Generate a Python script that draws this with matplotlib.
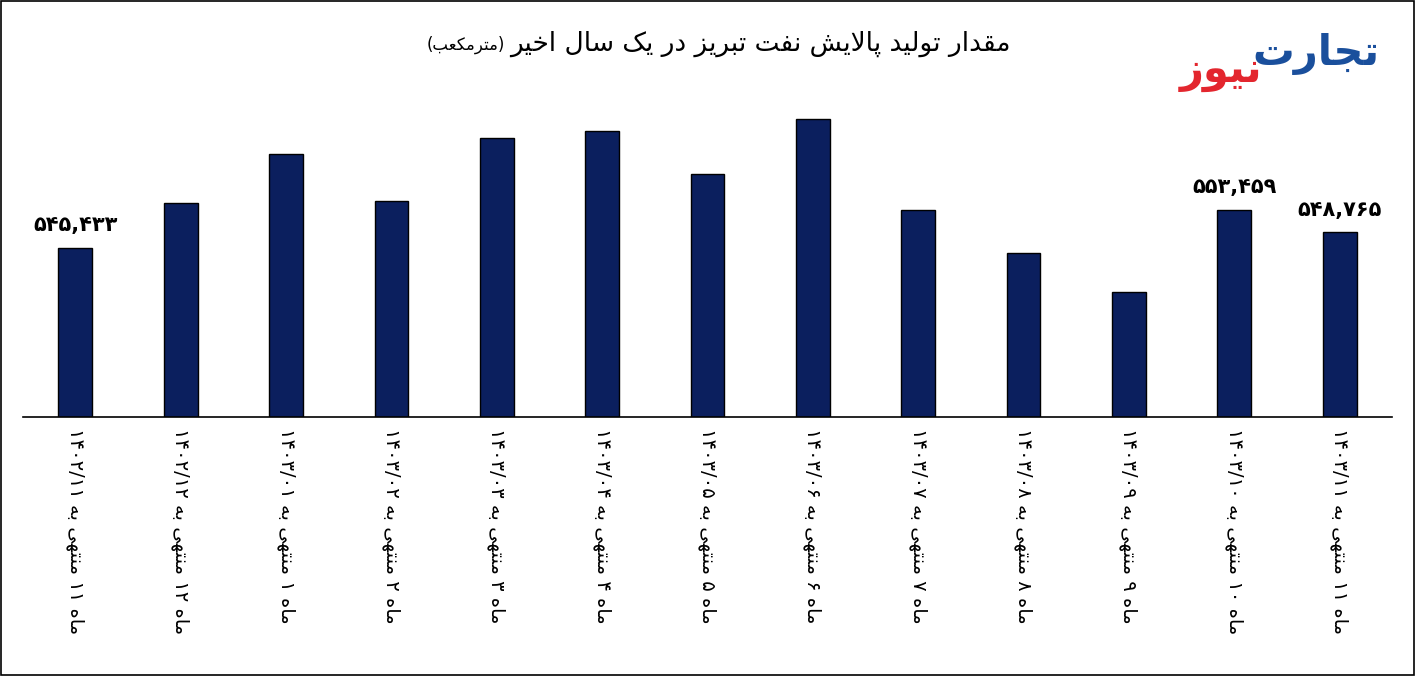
import matplotlib
matplotlib.use("Agg")
import matplotlib.pyplot as plt
from matplotlib.patches import Rectangle

# --- minimal Persian shaping (matplotlib has no bidi / joining) ---
FORMS = {
    "ا": (0xFE8D, 0xFE8E, None, None), "آ": (0xFE81, 0xFE82, None, None),
    "ب": (0xFE8F, 0xFE90, 0xFE91, 0xFE92), "پ": (0xFB56, 0xFB57, 0xFB58, 0xFB59),
    "ت": (0xFE95, 0xFE96, 0xFE97, 0xFE98), "ج": (0xFE9D, 0xFE9E, 0xFE9F, 0xFEA0),
    "خ": (0xFEA5, 0xFEA6, 0xFEA7, 0xFEA8), "د": (0xFEA9, 0xFEAA, None, None),
    "ر": (0xFEAD, 0xFEAE, None, None), "ز": (0xFEAF, 0xFEB0, None, None),
    "س": (0xFEB1, 0xFEB2, 0xFEB3, 0xFEB4), "ش": (0xFEB5, 0xFEB6, 0xFEB7, 0xFEB8),
    "ع": (0xFEC9, 0xFECA, 0xFECB, 0xFECC), "ف": (0xFED1, 0xFED2, 0xFED3, 0xFED4),
    "ق": (0xFED5, 0xFED6, 0xFED7, 0xFED8), "ک": (0xFB8E, 0xFB8F, 0xFB90, 0xFB91),
    "ل": (0xFEDD, 0xFEDE, 0xFEDF, 0xFEE0), "م": (0xFEE1, 0xFEE2, 0xFEE3, 0xFEE4),
    "ن": (0xFEE5, 0xFEE6, 0xFEE7, 0xFEE8), "ه": (0xFEE9, 0xFEEA, 0xFEEB, 0xFEEC),
    "و": (0xFEED, 0xFEEE, None, None), "ی": (0xFBFC, 0xFBFD, 0xFBFE, 0xFBFF),
}


def joins_next(c):
    return c in FORMS and FORMS[c][2] is not None


def shape_word(w):
    out = []
    i = 0
    while i < len(w):
        c = w[i]
        prev = w[i - 1] if i > 0 else ""
        pj = joins_next(prev)
        if c == "ل" and i + 1 < len(w) and w[i + 1] == "ا":
            out.append(chr(0xFEFC if pj else 0xFEFB))
            i += 2
            continue
        if c not in FORMS:
            out.append(c)
            i += 1
            continue
        nxt = w[i + 1] if i + 1 < len(w) else ""
        nj = nxt in FORMS and joins_next(c)
        iso, fin, ini, med = FORMS[c]
        if pj and nj:
            f = med
        elif pj:
            f = fin
        elif nj:
            f = ini
        else:
            f = iso
        out.append(chr(f))
        i += 1
    return "".join(out)


def fa(text):
    # split into runs: digits (kept LTR) and the rest (reversed)
    runs, cur, cur_digit = [], "", None
    for ch in text:
        d = ch in "۰۱۲۳۴۵۶۷۸۹0123456789/,"
        if cur and d != cur_digit:
            runs.append((cur, cur_digit))
            cur = ""
        cur += ch
        cur_digit = d
    if cur:
        runs.append((cur, cur_digit))
    vis = []
    for s, d in reversed(runs):
        if d:
            vis.append(s)
        else:
            s = " ".join(shape_word(w) for w in s.split(" "))
            s = s[::-1].translate(str.maketrans("()", ")("))
            vis.append(s)
    return "".join(vis)


def fa_digits(s):
    return s.translate(str.maketrans("0123456789", "۰۱۲۳۴۵۶۷۸۹"))


# --- data ---
months = ["۱۱", "۱۲", "۱", "۲", "۳", "۴", "۵", "۶", "۷", "۸", "۹", "۱۰", "۱۱"]
periods = ["۱۴۰۲/۱۱", "۱۴۰۲/۱۲", "۱۴۰۳/۰۱", "۱۴۰۳/۰۲", "۱۴۰۳/۰۳", "۱۴۰۳/۰۴", "۱۴۰۳/۰۵",
           "۱۴۰۳/۰۶", "۱۴۰۳/۰۷", "۱۴۰۳/۰۸", "۱۴۰۳/۰۹", "۱۴۰۳/۱۰", "۱۴۰۳/۱۱"]
values = [545433, 554940, 565290, 555360, 568670, 570140, 561060,
          572680, 553460, 544380, 536140, 553459, 548765]
labeled = [0, 11, 12]

labels = [fa("ماه " + m + " منتهی به " + p) for m, p in zip(months, periods)]

plt.rcParams["font.family"] = ["DejaVu Sans"]
fig = plt.figure(figsize=(14.15, 6.76), dpi=100)
fig.patches.append(Rectangle((0.001, 0.002), 0.998, 0.996, transform=fig.transFigure,
                             fill=False, edgecolor="black", linewidth=1.2))
ax = fig.add_axes([0.016, 0.383, 0.968, 0.469])

x = range(len(values))
ax.bar(x, values, width=0.32, color="#0b1f5e", edgecolor="black", linewidth=1)
ax.set_ylim(509740, 576690)
ax.set_xlim(-0.5, len(values) - 0.5)
for s in ["top", "left", "right"]:
    ax.spines[s].set_visible(False)
ax.spines["bottom"].set_linewidth(1.2)
ax.set_yticks([])
ax.set_xticks(list(x))
ax.set_xticklabels(labels, rotation=-90, fontsize=14, va="top")
ax.tick_params(axis="x", length=0, pad=8)

for i in labeled:
    ax.annotate(fa_digits(f"{values[i]:,}"), (i, values[i]), xytext=(0, 12),
                textcoords="offset points", ha="center", fontsize=15, fontweight="bold")

fig.text(0.714, 0.935, fa("مقدار تولید پالایش نفت تبریز در یک سال اخیر"), fontsize=19,
         ha="right", va="center")
fig.text(0.357, 0.933, fa("(مترمکعب)"), fontsize=12, ha="right", va="center")
fig.text(0.975, 0.92, fa("تجارت"), fontsize=30, fontweight="bold", color="#1a4f9c",
         ha="right", va="center")
fig.text(0.892, 0.895, fa("نیوز"), fontsize=30, fontweight="bold", color="#e3262e",
         ha="right", va="center")

fig.savefig("out.png", dpi=100)
